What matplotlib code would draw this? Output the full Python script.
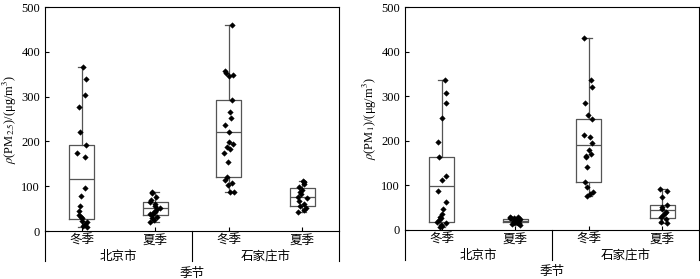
import matplotlib
matplotlib.use("Agg")
import matplotlib.pyplot as plt
import numpy as np

plt.rcParams['font.family'] = ['Liberation Serif', 'Noto Sans CJK SC']
plt.rcParams['mathtext.fontset'] = 'stix'
plt.rcParams['font.size'] = 8.5

seasons = ['冬季', '夏季', '冬季', '夏季']
cities = ['北京市', '石家庄市']
x_title = '季节'

# PM2.5 (ug/m3)
bj_winter_pm25 = [365, 340, 304, 276, 221, 192, 175, 166, 97, 79, 56, 45, 36, 32, 28, 23, 19, 15, 11, 8]
bj_summer_pm25 = [87, 84, 77, 70, 65, 60, 56, 52, 48, 45, 42, 40, 38, 35, 32, 28, 25, 21]
sjz_winter_pm25 = [459, 358, 352, 348, 345, 293, 266, 253, 236, 221, 199, 194, 187, 184, 174, 153,
                   120, 114, 108, 103, 87, 86]
sjz_summer_pm25 = [112, 109, 104, 98, 92, 88, 82, 77, 73, 66, 60, 56, 51, 46, 42]
# box stats: q1, median, q3, whisker low, whisker high
box_pm25 = [(27, 117, 192, 8, 365), (36, 51, 64, 21, 87),
            (120, 221, 293, 86, 459), (55, 77, 97, 42, 112)]

# PM1 (ug/m3)
bj_winter_pm1 = [336, 308, 285, 251, 197, 163, 120, 112, 88, 62, 46, 35, 30, 26, 22, 18, 15, 11, 8, 6]
bj_summer_pm1 = [30, 29, 28, 27, 26, 25, 24, 23, 22, 22, 21, 20, 19, 18, 17, 16, 15, 14, 12]
sjz_winter_pm1 = [430, 337, 320, 284, 258, 250, 213, 208, 196, 180, 171, 166, 163, 142, 107, 97, 86, 81, 76]
sjz_summer_pm1 = [91, 88, 73, 56, 52, 46, 41, 37, 34, 30, 24, 19, 15]
box_pm1 = [(17, 99, 163, 6, 336), (17, 21, 25, 12, 30),
           (107, 191, 250, 76, 430), (28, 45, 55, 15, 91)]

rng = np.random.default_rng(7)
box_color = '#555555'


def draw_panel(ax, groups, boxes, ylabel):
    positions = [0.5, 1.5, 2.5, 3.5]
    stats = []
    for q1, med, q3, lo, hi in boxes:
        stats.append({'q1': q1, 'med': med, 'q3': q3, 'whislo': lo, 'whishi': hi, 'fliers': []})
    lp = dict(color=box_color, linewidth=0.9)
    ax.bxp(stats, positions=positions, widths=0.34, showfliers=False, capwidths=0.1,
           boxprops=lp, whiskerprops=lp, capprops=lp, medianprops=lp,
           patch_artist=False, manage_ticks=False, zorder=2)
    for pos, vals in zip(positions, groups):
        xs = pos + rng.uniform(-0.07, 0.07, len(vals))
        ax.scatter(xs, vals, marker='D', s=8, color='black', linewidths=0.3, zorder=3)

    ax.set_xlim(0, 4)
    ax.set_ylim(0, 500)
    ax.set_yticks([0, 100, 200, 300, 400, 500])
    ax.set_xticks(positions)
    ax.set_xticklabels([])
    ax.tick_params(direction='in', length=3, width=0.8, labelsize=9)
    for s in ax.spines.values():
        s.set_linewidth(0.8)

    # extended frame below the plot
    trans = ax.get_xaxis_transform()
    ext = -0.134
    for x in [0, 2, 4]:
        ax.plot([x, x], [0, ext], transform=trans, color='black', lw=0.8, clip_on=False)
    for pos, lab in zip(positions, seasons):
        ax.text(pos, -0.045, lab, transform=trans, ha='center', va='center', fontsize=9)
    ax.text(1, -0.118, cities[0], transform=trans, ha='center', va='center', fontsize=9)
    ax.text(3, -0.118, cities[1], transform=trans, ha='center', va='center', fontsize=9)
    ax.text(2, -0.19, x_title, transform=trans, ha='center', va='center', fontsize=9)

    ax.set_ylabel(ylabel, fontsize=9)
    ax.yaxis.set_label_coords(-0.09, 0.5)


fig = plt.figure(figsize=(7, 2.79), dpi=100)
ax1 = fig.add_axes([45 / 700, 48 / 279, 294 / 700, 224 / 279])
ax2 = fig.add_axes([405 / 700, 49 / 279, 294 / 700, 223 / 279])

draw_panel(ax1, [bj_winter_pm25, bj_summer_pm25, sjz_winter_pm25, sjz_summer_pm25], box_pm25,
           r'$\rho$(PM$_{2.5}$)/(μg/m$^3$)')
draw_panel(ax2, [bj_winter_pm1, bj_summer_pm1, sjz_winter_pm1, sjz_summer_pm1], box_pm1,
           r'$\rho$(PM$_1$)/(μg/m$^3$)')

fig.savefig('out.png', dpi=100)
